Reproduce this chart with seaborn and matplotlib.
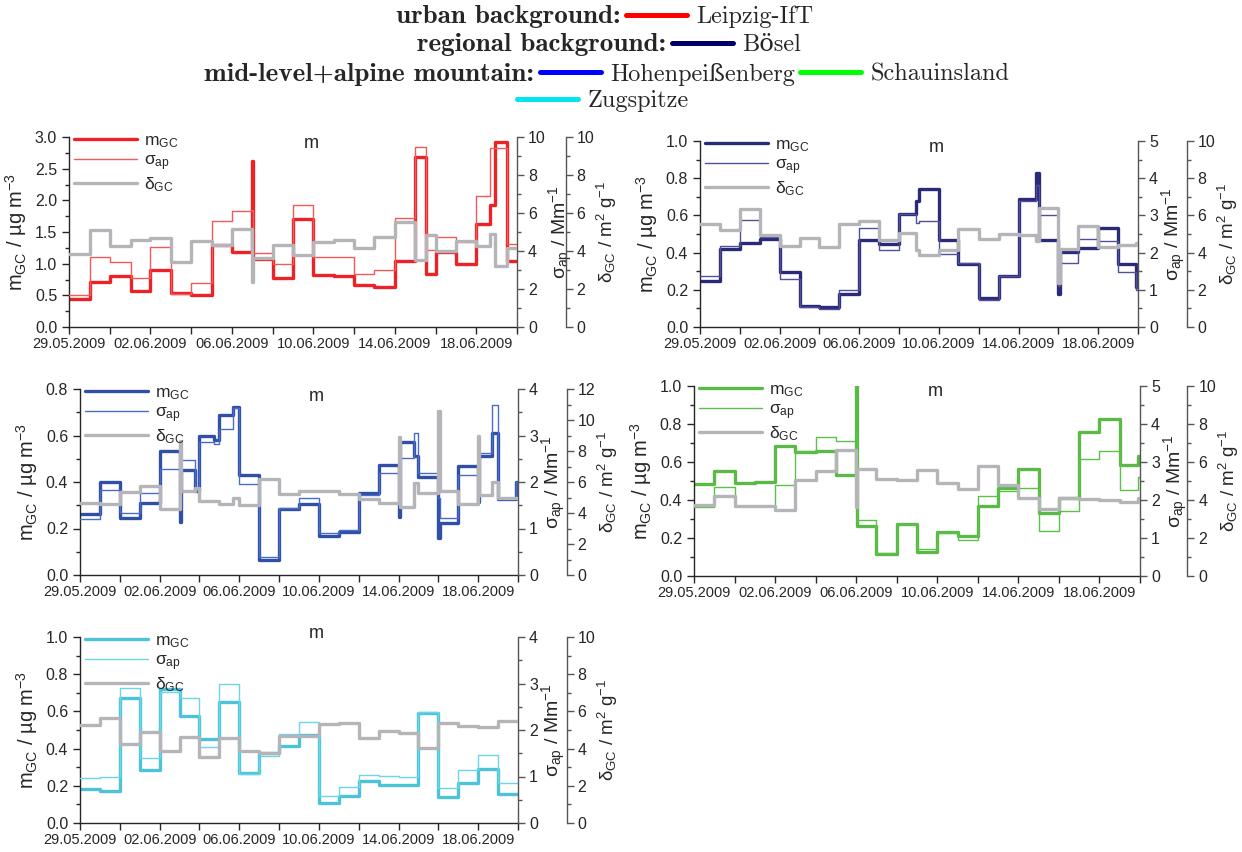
import numpy as np
import pandas as pd
import matplotlib
matplotlib.use("Agg")
import matplotlib.pyplot as plt
from matplotlib.ticker import MultipleLocator, FixedLocator
from matplotlib.lines import Line2D
import matplotlib.dates as mdates
import seaborn as sns

START = pd.Timestamp("2009-05-29")
END_DAY = 22.0

# ---- Leipzig-IfT (urban background) ----
leip_t = [0.00, 1.04, 2.00, 3.03, 4.00, 5.03, 6.00, 7.00, 8.00, 9.00, 9.06, 10.00, 11.00,
          12.00, 13.00, 14.00, 15.00, 16.00, 17.00, 17.55, 18.00, 19.00, 20.00, 20.65,
          20.90, 21.50]
leip_m = [0.44, 0.71, 0.80, 0.57, 0.90, 0.53, 0.51, 1.30, 1.18, 2.62, 1.08, 0.77, 1.71,
          0.82, 0.80, 0.66, 0.63, 1.04, 2.69, 0.84, 1.19, 0.99, 1.62, 1.92, 2.92, 1.05]
leip_s = [1.67, 3.67, 3.40, 2.60, 4.20, 1.73, 2.30, 5.60, 6.13, 6.15, 3.90, 3.30, 6.43,
          3.70, 3.67, 2.77, 3.00, 5.73, 9.47, 4.07, 4.73, 4.47, 6.87, 9.43, 9.43, 4.37]
leip_d = [3.86, 5.13, 4.26, 4.56, 4.66, 3.44, 4.52, 4.29, 5.16, 2.35, 3.65, 4.33, 3.77,
          4.47, 4.57, 4.17, 4.75, 5.50, 3.50, 4.84, 3.98, 4.50, 4.25, 4.90, 3.23, 4.16]

# ---- Boesel (regional background) ----
bos_t = [0.00, 1.00, 2.00, 3.00, 4.00, 5.00, 6.00, 7.00, 8.00, 9.00, 10.00, 10.85, 11.00,
         12.00, 12.95, 14.00, 15.00, 16.00, 16.90, 17.05, 18.00, 18.06, 19.00, 20.00,
         21.00, 21.90]
bos_m = [0.247, 0.420, 0.452, 0.475, 0.297, 0.114, 0.110, 0.180, 0.466, 0.445, 0.610, 0.680,
         0.740, 0.470, 0.337, 0.154, 0.274, 0.686, 0.830, 0.468, 0.180, 0.403, 0.427, 0.534,
         0.337, 0.217]
bos_s = [1.37, 2.17, 2.88, 2.43, 1.29, 0.55, 0.48, 1.00, 2.66, 2.08, 3.05, 2.80, 2.86,
         1.95, 1.71, 0.73, 1.36, 3.40, 3.83, 3.01, 1.10, 1.71, 2.36, 2.31, 1.49, 1.00]
bos_d = [5.55, 5.23, 6.35, 4.95, 4.34, 4.80, 4.30, 5.55, 5.70, 4.70, 5.05, 4.15, 3.87,
         4.14, 5.25, 4.73, 4.98, 4.95, 4.60, 6.42, 2.35, 4.18, 5.43, 4.28, 4.40, 4.50]

# ---- Hohenpeissenberg (mid-level mountain) ----
hoh_t = [0.00, 1.00, 2.00, 3.00, 4.00, 5.00, 5.06, 5.80, 6.00, 6.75, 7.00, 7.70, 8.00,
         9.00, 10.00, 11.00, 12.00, 13.00, 14.00, 15.00, 16.00, 16.06, 16.80, 17.00,
         18.00, 18.06, 19.00, 20.00, 20.06, 20.70, 21.00, 21.90]
hoh_m = [0.261, 0.400, 0.247, 0.308, 0.535, 0.230, 0.452, 0.360, 0.600, 0.580, 0.688, 0.724,
         0.430, 0.065, 0.284, 0.304, 0.169, 0.186, 0.354, 0.473, 0.250, 0.571, 0.513, 0.420,
         0.158, 0.225, 0.469, 0.315, 0.512, 0.612, 0.325, 0.400]
hoh_s = [1.20, 1.83, 1.34, 1.76, 2.27, 2.00, 2.47, 1.90, 2.87, 2.81, 3.15, 3.60,
         1.95, 0.395, 1.45, 1.65, 0.91, 0.97, 1.72, 2.19, 2.20, 2.52, 3.06, 2.20,
         1.65, 1.23, 2.15, 2.80, 2.62, 3.66, 1.63, 2.00]
hoh_d = [4.62, 4.56, 5.38, 5.74, 4.26, 8.67, 5.44, 5.60, 4.77, 4.80, 4.56, 4.95,
         4.50, 6.20, 5.20, 5.42, 5.42, 5.25, 4.90, 4.62, 8.90, 4.37, 5.96, 5.30,
         10.60, 5.42, 4.58, 9.00, 5.16, 5.97, 4.95, 5.00]

# ---- Schauinsland (mid-level mountain) ----
sch_t = [0.00, 1.00, 2.00, 3.00, 4.00, 5.00, 6.00, 7.00, 8.00, 8.06, 9.00, 10.00, 11.00,
         12.00, 13.00, 14.00, 15.00, 16.00, 17.00, 18.00, 19.00, 20.00, 21.00, 21.90]
sch_m = [0.486, 0.551, 0.489, 0.493, 0.686, 0.651, 0.656, 0.533, 1.050, 0.262, 0.117, 0.274,
         0.126, 0.231, 0.210, 0.367, 0.463, 0.565, 0.332, 0.411, 0.760, 0.825, 0.582, 0.630]
sch_s = [1.82, 2.33, 1.83, 1.83, 2.39, 3.28, 3.66, 3.56, 3.80, 1.48, 0.60, 1.38,
         0.70, 1.12, 0.96, 2.11, 2.23, 2.31, 1.18, 1.70, 3.07, 3.30, 2.27, 2.60]
sch_d = [3.75, 4.23, 3.70, 3.70, 3.49, 5.07, 5.55, 6.65, 3.63, 5.65, 5.10, 5.07,
         5.58, 4.90, 4.60, 5.80, 4.81, 4.10, 3.55, 4.12, 4.05, 4.00, 3.90, 4.10]

# ---- Zugspitze (alpine mountain) ----
zug_t = [0.00, 1.00, 2.00, 3.00, 4.00, 5.00, 6.00, 7.00, 8.00, 9.00, 10.00, 11.00,
         12.00, 13.00, 14.00, 15.00, 16.00, 17.00, 18.00, 19.00, 20.00, 21.00]
zug_m = [0.183, 0.172, 0.670, 0.285, 0.720, 0.577, 0.452, 0.649, 0.270, 0.378, 0.416, 0.472,
         0.109, 0.146, 0.226, 0.205, 0.205, 0.594, 0.140, 0.217, 0.288, 0.155]
zug_s = [0.96, 0.98, 2.90, 1.39, 2.82, 2.68, 1.63, 3.00, 1.05, 1.45, 1.91, 2.18,
         0.58, 0.78, 1.03, 1.02, 0.99, 2.38, 0.76, 1.13, 1.47, 0.86]
zug_d = [5.27, 5.66, 4.25, 4.87, 3.87, 4.64, 3.57, 4.59, 3.87, 3.75, 4.70, 4.66,
         5.32, 5.37, 4.57, 4.95, 4.85, 4.04, 5.37, 5.23, 5.14, 5.46]

# header legend
groups = ["urban background:", "regional background:", "mid-level+alpine mountain:"]
stations = ["Leipzig-IfT", "Bösel", "Hohenpeißenberg", "Schauinsland", "Zugspitze"]
station_colors = ["#ff0000", "#000066", "#0000ff", "#00ff00", "#00e5ee"]

tick_days = [0, 4, 8, 12, 16, 20]
minor_days = list(range(0, 23, 2))

sns.set_theme(style="ticks")
plt.rcParams["font.family"] = ["Liberation Sans", "DejaVu Sans"]
plt.rcParams["mathtext.fontset"] = "custom"
plt.rcParams["mathtext.rm"] = "Liberation Sans"
plt.rcParams["mathtext.it"] = "Liberation Sans:italic"
plt.rcParams["mathtext.bf"] = "Liberation Sans:bold"
plt.rcParams["axes.linewidth"] = 1.0

fig = plt.figure(figsize=(12.42, 8.52), dpi=100)
W, H = 1242.0, 852.0

GRAY = "#b5b5b9"
SPINE_R = "#555555"


def to_frame(t, v):
    days = list(t) + [END_DAY]
    vals = list(v) + [v[-1]]
    return pd.DataFrame({"time": START + pd.to_timedelta(days, unit="D"), "value": vals})


def panel(px, t, m, s, d, c_thick, c_thin, mlim, s_lim, d_lim, m_y, offset=35):
    left, top, right, bottom = px
    ax = fig.add_axes([left / W, 1 - bottom / H, (right - left) / W, (bottom - top) / H])
    ax2 = ax.twinx()
    ax3 = ax.twinx()
    sns.lineplot(data=to_frame(t, m), x="time", y="value", ax=ax, drawstyle="steps-post",
                 color=c_thick, lw=2.4, estimator=None, sort=False, legend=False)
    sns.lineplot(data=to_frame(t, s), x="time", y="value", ax=ax2, drawstyle="steps-post",
                 color=c_thin, lw=1.0, estimator=None, sort=False, legend=False)
    sns.lineplot(data=to_frame(t, d), x="time", y="value", ax=ax3, drawstyle="steps-post",
                 color=GRAY, lw=2.4, estimator=None, sort=False, legend=False)
    h_m = ax.get_lines()[-1]
    h_s = ax2.get_lines()[-1]
    h_d = ax3.get_lines()[-1]

    x0 = START
    x1 = START + pd.Timedelta(days=END_DAY)
    for a in (ax, ax2, ax3):
        a.set_xlim(x0, x1)
        a.spines["top"].set_visible(False)
        a.grid(False)
    ax.spines["right"].set_visible(False)
    for a in (ax2, ax3):
        a.spines["left"].set_visible(False)
        a.spines["bottom"].set_visible(False)
        a.spines["right"].set_color(SPINE_R)
    ax3.spines["right"].set_position(("outward", offset))

    ax.set_ylim(0, mlim[0])
    ax.yaxis.set_major_locator(MultipleLocator(mlim[1]))
    ax.yaxis.set_minor_locator(MultipleLocator(mlim[1] / 2))
    ax2.set_ylim(0, s_lim[0])
    ax2.yaxis.set_major_locator(MultipleLocator(s_lim[1]))
    ax2.yaxis.set_minor_locator(MultipleLocator(s_lim[1] / 2))
    ax3.set_ylim(0, d_lim[0])
    ax3.yaxis.set_major_locator(MultipleLocator(d_lim[1]))
    ax3.yaxis.set_minor_locator(MultipleLocator(d_lim[1] / 2))

    major = [mdates.date2num(START + pd.Timedelta(days=k)) for k in tick_days]
    minor = [mdates.date2num(START + pd.Timedelta(days=k)) for k in minor_days]
    ax.xaxis.set_major_locator(FixedLocator(major))
    ax.xaxis.set_minor_locator(FixedLocator(minor))
    ax.xaxis.set_major_formatter(mdates.DateFormatter("%d.%m.%Y"))
    ax.tick_params(axis="x", which="both", direction="out", length=5, width=1,
                   labelsize=10.5, pad=2)
    ax.tick_params(axis="y", which="major", direction="out", length=5, width=1, labelsize=11.5)
    ax.tick_params(axis="y", which="minor", direction="out", length=3, width=1)
    for a in (ax2, ax3):
        a.tick_params(axis="y", which="major", direction="out", length=5, width=1,
                      labelsize=11.5, color=SPINE_R, pad=3)
        a.tick_params(axis="y", which="minor", direction="out", length=3, width=1,
                      color=SPINE_R)
        a.tick_params(axis="x", which="both", bottom=False, labelbottom=False)

    ax.set_xlabel("")
    ax.set_ylabel(r"m$_{\rm GC}$ / µg m$^{-3}$", fontsize=14.5, labelpad=4)
    ax2.set_ylabel(r"σ$_{\rm ap}$ / Mm$^{-1}$", fontsize=14, labelpad=1)
    ax3.set_ylabel(r"δ$_{\rm GC}$ / m$^2$ g$^{-1}$", fontsize=13.5, labelpad=0.5)

    ax3.legend([h_m, h_s, h_d], [r"m$_{\rm GC}$", r"σ$_{\rm ap}$", r"δ$_{\rm GC}$"],
               loc="upper left", bbox_to_anchor=(0.012, 1.02), frameon=False,
               fontsize=12.5, handlelength=3.6, handletextpad=0.4, labelspacing=0.15,
               borderaxespad=0, borderpad=0)
    ax3.text(0.54, m_y, "m", transform=ax.transAxes, ha="center", va="center", fontsize=13)
    return ax


panel((69, 137, 517, 327), leip_t, leip_m, leip_s, leip_d, "#ec2227", "#f25a5a",
      (3.0, 0.5), (10, 2), (10, 2), 0.965)
panel((700, 141, 1138, 327), bos_t, bos_m, bos_s, bos_d, "#2b2a78", "#50509a",
      (1.0, 0.2), (5, 1), (10, 2), 0.965)
panel((80, 389, 518, 575), hoh_t, hoh_m, hoh_s, hoh_d, "#3050a8", "#4a6cc4",
      (0.8, 0.2), (4, 1), (12, 2), 0.96)
panel((694, 386, 1140, 576), sch_t, sch_m, sch_s, sch_d, "#5bb947", "#5cc04a",
      (1.0, 0.2), (5, 1), (10, 2), 0.97, offset=34)
panel((80, 637, 518, 823), zug_t, zug_m, zug_s, zug_d, "#4cc3d8", "#6dd5e8",
      (1.0, 0.2), (4, 1), (10, 2), 1.02)

# ---- header legend ----
bold_prop = dict(family=["cmb10", "DejaVu Serif"], size=19.5)
reg_prop = {"family": ["cmr10", "DejaVu Serif"], "size": 17.5}
rows_y = [1 - 17 / H, 1 - 45 / H, 1 - 74 / H, 1 - 101 / H]
text_right = [620 / W, 666 / W, 534 / W]
leg_left = [626 / W, 672 / W, 540 / W, 517 / W]
for i, g in enumerate(groups):
    fig.text(text_right[i], rows_y[i], g, ha="right", va="center", **bold_prop)

row_members = [[0], [1], [2, 3], [4]]
for r, members in enumerate(row_members):
    handles = [Line2D([], [], color=station_colors[k], lw=3.6) for k in members]
    labels = [stations[k] for k in members]
    fig.legend(handles, labels, loc="center left", bbox_to_anchor=(leg_left[r], rows_y[r]),
               ncol=len(members), frameon=False, prop=reg_prop, handlelength=2.5,
               handletextpad=0.4, columnspacing=0.2, borderpad=0, borderaxespad=0)

fig.savefig("out.png", dpi=100)
